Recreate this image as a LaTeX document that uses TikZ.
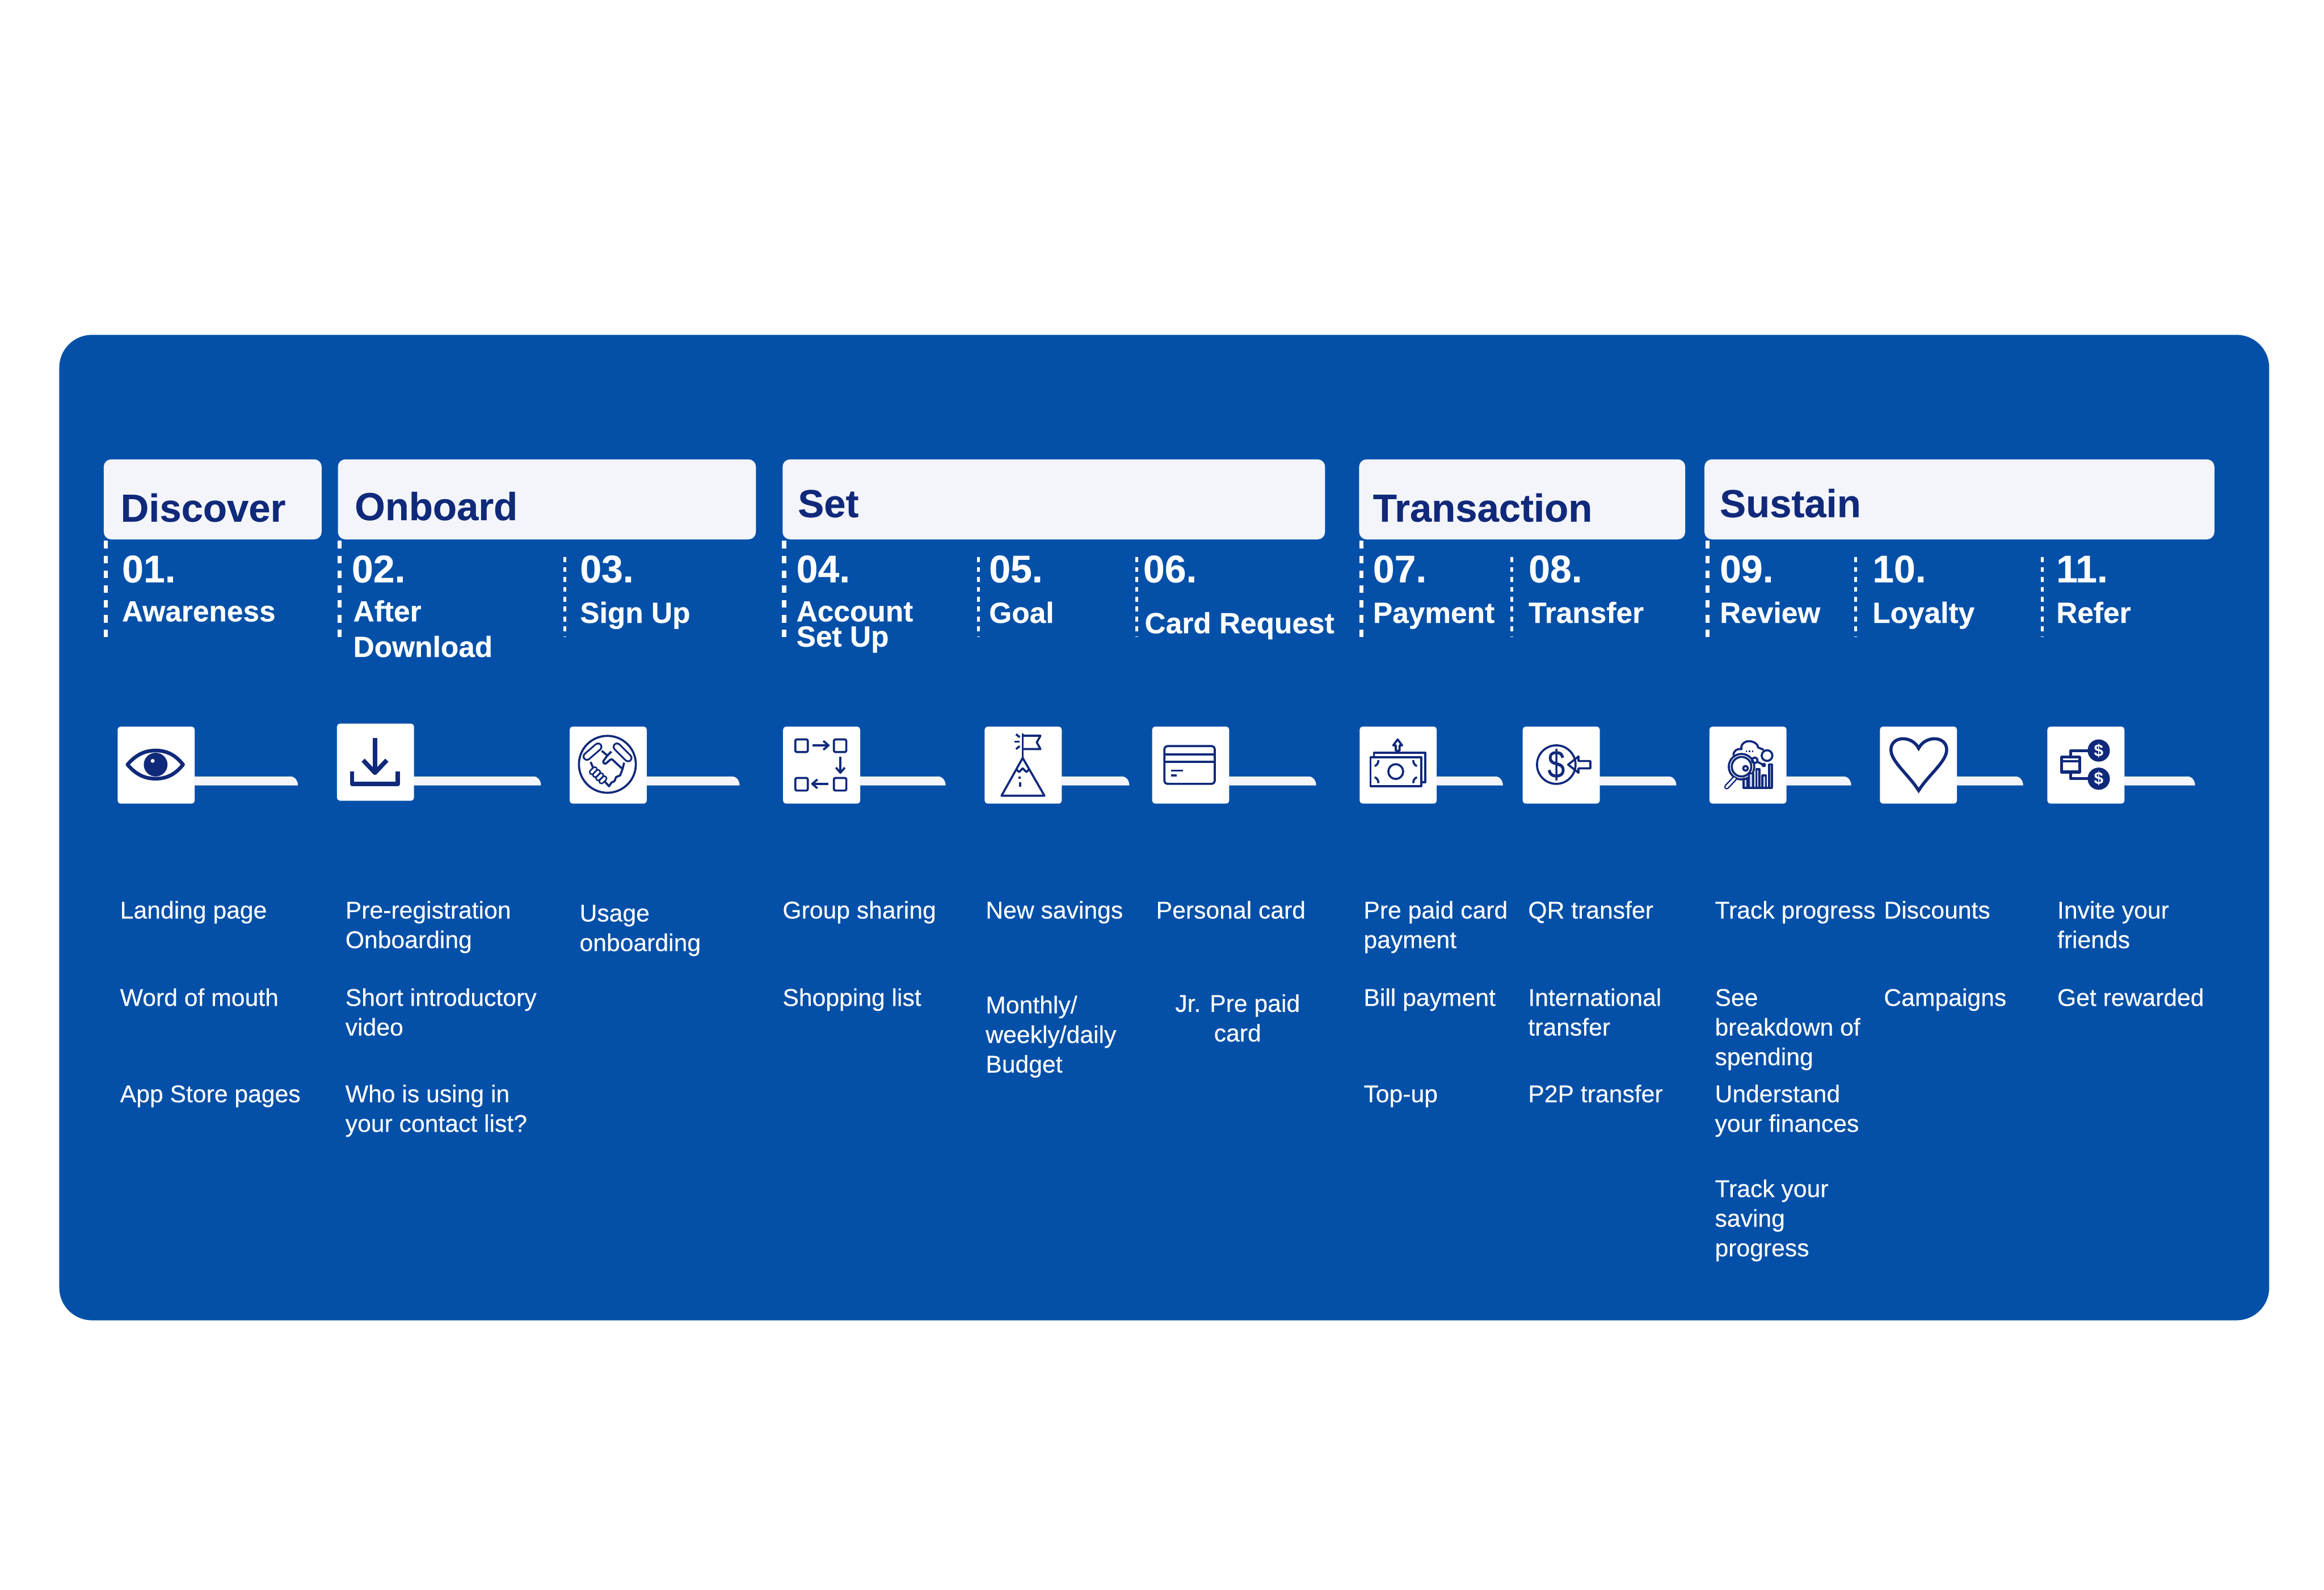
\documentclass[tikz,border=0pt]{standalone}
\usepackage{fontspec}
\setmainfont{Liberation Sans}
\newfontfamily\bodyface[FakeBold=0.2]{Liberation Sans}
\newfontfamily\boldface[FakeBold=0.3]{Liberation Sans Bold}
\definecolor{panelblue}{HTML}{0450A8}
\definecolor{navy}{HTML}{10297A}
\definecolor{paper}{HTML}{F3F5FA}
\definecolor{barlight}{HTML}{C5D0F0}
\tikzset{
  panel/.style={fill=panelblue,draw=none,rounded corners=0.44cm},
  headbox/.style={fill=paper,draw=none,rounded corners=0.1cm},
  headtext/.style={anchor=base west,inner sep=0,text=navy,font=\fontsize{15}{18}\selectfont\boldface},
  numtext/.style={anchor=base west,inner sep=0,text=white,font=\fontsize{14.8}{18}\selectfont\boldface},
  labtext/.style={anchor=north west,inner sep=0,text=white,align=left,font=\fontsize{11.2}{13.66}\selectfont\boldface},
  bodytext/.style={anchor=north west,inner sep=0,text=white,align=left,font=\fontsize{9.3}{11.38}\selectfont\bodyface},
  iconbox/.style={fill=white,draw=none,rounded corners=0.04cm,minimum width=1.04cm,minimum height=1.04cm,inner sep=0},
  stagebar/.style={fill=paper,draw=none},
  maindash/.style={draw=white,line width=1.6pt,dash pattern=on 2.9pt off 2.8pt},
  subdash/.style={draw=white,line width=1.05pt,dash pattern=on 1.9pt off 1.9pt},
  ic/.style={draw=navy,line width=0.8pt,line join=round,fill=none},
  icthick/.style={draw=navy,line width=1.4pt,line join=round,fill=none},
  capout/.style={draw=navy,line cap=round,line width=3.3pt},
  capin/.style={draw=white,line cap=round,line width=1.9pt},
  fingerout/.style={draw=navy,line cap=round,line width=2.3pt},
  fingerin/.style={draw=white,line cap=round,line width=1.0pt},
}
\newcommand{\bodyat}[4]{\node[bodytext] (#1) at (#2-0.3,#3-14.5) {\strut #4};}
\newcommand{\labat}[4]{\node[labtext] (#1) at (#2,#3-16.8) {\strut #4};}
\newcommand{\stageicon}[4]{%
  \node[iconbox,anchor=north west] (#1) at (#2,#3) {};
  \fill[stagebar] (#2+52,524) -- (#4-5,524) .. controls (#4-2,524) and (#4,527) .. (#4,530) -- (#2+52,530) -- cycle;
}
\begin{document}
\begin{tikzpicture}[x=0.02cm,y=-0.02cm]
\useasboundingbox (0,0) rectangle (1568,1072.8);
\fill[white] (0,0) rectangle (1568,1072.8);
\path[panel] (40,226) rectangle (1531,891);
% headers
\path[headbox] (70,310) rectangle (217,364);
\path[headbox] (228,310) rectangle (510,364);
\path[headbox] (528,310) rectangle (894,364);
\path[headbox] (917,310) rectangle (1137,364);
\path[headbox] (1150,310) rectangle (1494,364);
\node[headtext] (hDiscover) at (81,352) {Discover};
\node[headtext] (hOnboard) at (239,351) {Onboard};
\node[headtext] (hSet) at (538,349) {Set};
\node[headtext] (hTransaction) at (926,352) {Transaction};
\node[headtext] (hSustain) at (1160,349) {Sustain};
% dashed stage separators
\foreach \xx in {71.5,229,529,918.5,1152} \draw[maindash] (\xx,365) -- (\xx,430);
\foreach \xx in {381,660,767,1020,1252,1378} \draw[subdash] (\xx,376) -- (\xx,430);
% numbers
\node[numtext] (n1) at (82,393) {01.};
\node[numtext] (n2) at (237,393) {02.};
\node[numtext] (n3) at (391,393) {03.};
\node[numtext] (n4) at (537,393) {04.};
\node[numtext] (n5) at (667,393) {05.};
\node[numtext] (n6) at (771,393) {06.};
\node[numtext] (n7) at (926,393) {07.};
\node[numtext] (n8) at (1031,393) {08.};
\node[numtext] (n9) at (1160,393) {09.};
\node[numtext] (n10) at (1263,393) {10.};
\node[numtext] (n11) at (1387,393) {11.};
% stage names
\labat{l1}{82}{419}{Awareness}
\labat{l2}{238}{419}{After\\Download}
\labat{l3}{391}{420}{Sign Up}
\labat{l4}{537}{419}{Account}
\labat{l4b}{537}{436}{Set Up}
\labat{l5}{667}{420}{Goal}
\labat{l6}{772}{427}{Card Request}
\labat{l7}{926}{420}{Payment}
\labat{l8}{1031}{420}{Transfer}
\labat{l9}{1160}{420}{Review}
\labat{l10}{1263}{420}{Loyalty}
\labat{l11}{1387}{420}{Refer}
% icon boxes and bars
\stageicon{b1}{79}{490}{201}
\stageicon{b2}{227}{488}{365}
\stageicon{b3}{384}{490}{499}
\stageicon{b4}{528}{490}{638}
\stageicon{b5}{664}{490}{762}
\stageicon{b6}{777}{490}{888}
\stageicon{b7}{917}{490}{1014}
\stageicon{b8}{1027}{490}{1131}
\stageicon{b9}{1153}{490}{1249}
\stageicon{b10}{1268}{490}{1365}
\stageicon{b11}{1381}{490}{1481}
% eye
\begin{scope}[shift={(79,490)}]
  \draw[icthick] (7,26) .. controls (13,19) and (19,16.5) .. (26,16.5) .. controls (33,16.5) and (39,19) .. (44.5,26) .. controls (39,33) and (33,35.5) .. (26,35.5) .. controls (19,35.5) and (13,33) .. (7,26) -- cycle;
  \fill[navy] (26,26) circle [radius=8];
  \fill[white] (24,23.5) circle [radius=1.3];
\end{scope}
% download
\begin{scope}[shift={(227,488)}]
  \draw[icthick,line width=1.7pt] (26,10) -- (26,33);
  \draw[icthick,line width=1.7pt] (18,25) -- (26,33.5) -- (34,25);
  \draw[icthick,line width=1.7pt] (10.5,32.5) -- (10.5,41) -- (41.5,41) -- (41.5,32.5);
\end{scope}
% handshake
\begin{scope}[shift={(384,490)}]
  \draw[ic] (25.8,25.8) circle [radius=19.2];
  \draw[capout] (12,20.5) -- (19.5,14); \draw[capin] (12,20.5) -- (19.5,14);
  \draw[capout] (32.3,14) -- (39.8,21.5); \draw[capin] (32.3,14) -- (39.8,21.5);
  \draw[ic] (22,16.7) -- (25.8,19.9) -- (28.5,17.2);
  \draw[ic,rounded corners=0.02cm] (25.8,19.9) -- (22.6,24.2) -- (24.2,25.8) -- (28.5,22) -- (35.5,28.5);
  \draw[ic] (37.1,24.7) -- (36,29) -- (34.4,33.3) -- (31.7,34.4) -- (30.6,37.1) -- (28.5,38.2) -- (26.9,40.6) -- (24.2,37.6);
  \draw[ic] (14.5,24.2) -- (16.1,28);
  \foreach \fx/\fy in {16.3/30.1,18.5/32,20.6/34.2,22.8/36.3} {
    \draw[fingerout] (\fx-1,\fy+1) -- (\fx+1,\fy-1);
    \draw[fingerin] (\fx-1,\fy+1) -- (\fx+1,\fy-1);
  }
\end{scope}
% account set up
\begin{scope}[shift={(528,490)}]
  \draw[ic,rounded corners=0.02cm] (8.6,9) rectangle (17,17.5);
  \draw[ic,rounded corners=0.02cm] (34.6,9) rectangle (43,17.5);
  \draw[ic,rounded corners=0.02cm] (8.6,35) rectangle (17,43.5);
  \draw[ic,rounded corners=0.02cm] (34.6,35) rectangle (43,43.5);
  \draw[ic] (20,13) -- (31,13); \draw[ic] (27.5,10) -- (31,13) -- (27.5,16);
  \draw[ic] (39,20.5) -- (39,31.5); \draw[ic] (36,28) -- (39,31.5) -- (42,28);
  \draw[ic] (31,39) -- (20,39); \draw[ic] (23.5,36) -- (20,39) -- (23.5,42);
\end{scope}
% goal
\begin{scope}[shift={(664,490)}]
  \draw[ic] (26,21.5) -- (11.7,47) -- (40.7,47) -- cycle;
  \draw[ic] (26,5) -- (26,21.5);
  \draw[ic] (26,6.5) -- (38,6.5) -- (35.5,11) -- (38,15.5) -- (26,15.5);
  \draw[ic] (21.5,5.5) -- (24,7.5); \draw[ic] (20.5,10.5) -- (24,10.5); \draw[ic] (21.5,15.5) -- (24,13.5);
  \draw[ic] (21.5,29) -- (23.5,31) -- (26,28.5) -- (28.5,31) -- (30.5,29);
  \draw[ic] (24,34) -- (24,35.5); \draw[ic] (24.3,38) -- (24.3,41);
\end{scope}
% card
\begin{scope}[shift={(777,490)}]
  \draw[ic,rounded corners=0.04cm] (8.6,13.5) rectangle (42.6,39);
  \draw[ic] (8.6,19.2) -- (42.6,19.2);
  \draw[ic] (8.6,24.2) -- (42.6,24.2);
  \draw[ic] (13,30) -- (21,30);
  \draw[ic] (13,33.4) -- (17,33.4);
\end{scope}
% money
\begin{scope}[shift={(917,490)}]
  \draw[ic] (10,20.5) -- (10,18) -- (44.7,18) -- (44.7,37.8) -- (42,37.8);
  \draw[ic] (7.7,21) rectangle (42,40.5);
  \draw[ic] (24.7,30.7) ellipse [x radius=5,y radius=5];
  \draw[ic] (26,9) -- (29,13) -- (27.3,13) -- (27.3,16.6) -- (24.7,16.6) -- (24.7,13) -- (23,13) -- cycle;
  \draw[ic] (10.5,27) .. controls (12,26.5) and (13,25) .. (13,23);
  \draw[ic] (39,27) .. controls (37.5,26.5) and (36.5,25) .. (36.5,23);
  \draw[ic] (10.5,34.5) .. controls (12,35) and (13,36.5) .. (13,38.5);
  \draw[ic] (39,34.5) .. controls (37.5,35) and (36.5,36.5) .. (36.5,38.5);
\end{scope}
% dollar transfer
\begin{scope}[shift={(1027,490)}]
  \draw[ic] (23,26) circle [radius=13];
  \node[inner sep=0,text=navy,xscale=0.8,font=\fontsize{15}{15}\selectfont\bodyface] (dollar) at (23,26) {\$};
  \draw[fill=white,ic] (46,23.6) -- (38,23.6) -- (38,20.5) -- (31,26) -- (38,31.5) -- (38,28.5) -- (46,28.5) -- cycle;
\end{scope}
% review
\begin{scope}[shift={(1153,490)}]
  \draw[ic] (16.7,20) .. controls (16,17) and (19,15) .. (22,15.6) .. controls (21,12) and (25,10) .. (27,10.2) .. controls (30,10.2) and (33,12) .. (33.3,14.5) -- (37,16);
  \draw[ic] (39.2,19.9) circle [radius=3.6];
  \draw[ic] (30.9,23.1) circle [radius=1.9];
  \draw[ic] (37,26.3) circle [radius=0.8];
  \draw[ic] (32.5,24) -- (36.3,26);
  \draw[ic] (22,27.4) circle [radius=8.6];
  \draw[ic] (22,27.4) circle [radius=6.6];
  \draw[ic] (24.7,28.5) circle [radius=1.6];
  \draw[draw=navy,line cap=round,line width=2pt] (17.2,35.5) -- (12,41);
  \draw[draw=white,line cap=round,line width=0.9pt] (17.2,35.5) -- (12,41);
  \foreach \bl/\br/\bt in {23.4/25.8/35.5,27/30/32,32/34.2/29.2,36/38.5/33.3,40.6/42.5/25.8} {
    \draw[ic,fill=barlight] (\bl,41.7) rectangle (\br,\bt);
  }
  \draw[ic] (23.4,41.7) -- (42.5,41.7);
  \draw[ic] (25,17) -- (25.8,17); \draw[ic] (27,17) -- (27.8,17); \draw[ic] (29,17) -- (29.8,17);
\end{scope}
% heart
\begin{scope}[shift={(1268,490)}]
  \draw[draw=navy,line width=1.2pt,line join=miter] (26.5,43.5) .. controls (20,33) and (7.8,24) .. (7.8,16) .. controls (7.8,6.5) and (22,6) .. (26.5,15) .. controls (31,6) and (45.4,6.5) .. (45.4,16) .. controls (45.4,24) and (33,33) .. (26.5,43.5) -- cycle;
\end{scope}
% refer
\begin{scope}[shift={(1381,490)}]
  \draw[ic,line width=1.1pt] (10,21) rectangle (22,31);
  \draw[ic] (10,23.8) -- (22,23.8);
  \draw[ic,line width=1.1pt] (16,21) -- (16,16.7) -- (30,16.7);
  \draw[ic,line width=1.1pt] (16,31) -- (16,35.5) -- (30,35.5);
  \fill[navy] (35,16.5) circle [radius=7.5];
  \fill[navy] (35,35.5) circle [radius=7.5];
  \node[inner sep=0,text=white,font=\fontsize{6.5}{7}\selectfont\bfseries] (coinA) at (35,16.5) {\$};
  \node[inner sep=0,text=white,font=\fontsize{6.5}{7}\selectfont\bfseries] (coinB) at (35,35.5) {\$};
\end{scope}
% body text
\bodyat{t1}{81}{620}{Landing page}
\bodyat{t2}{81}{679}{Word of mouth}
\bodyat{t3}{81}{744}{App Store pages}
\bodyat{t4}{233}{620}{Pre-registration\\Onboarding}
\bodyat{t5}{233}{679}{Short introductory\\video}
\bodyat{t6}{233}{744}{Who is using in\\your contact list?}
\bodyat{t7}{391}{622}{Usage\\onboarding}
\bodyat{t8}{528}{620}{Group sharing}
\bodyat{t9}{528}{679}{Shopping list}
\bodyat{t10}{665}{620}{New savings}
\bodyat{t11}{665}{684}{Monthly/\\weekly/daily\\Budget}
\bodyat{t12}{780}{620}{Personal card}
\node[bodytext,anchor=north,align=center] (t13) at (835,683-14.5) {\strut Jr. Pre paid\\card};
\bodyat{t14}{920}{620}{Pre paid card\\payment}
\bodyat{t15}{920}{679}{Bill payment}
\bodyat{t16}{920}{744}{Top-up}
\bodyat{t17}{1031}{620}{QR transfer}
\bodyat{t18}{1031}{679}{International\\transfer}
\bodyat{t19}{1031}{744}{P2P transfer}
\bodyat{t20}{1157}{620}{Track progress}
\bodyat{t21}{1157}{679}{See\\breakdown of\\spending}
\bodyat{t22}{1157}{744}{Understand\\your finances}
\bodyat{t23}{1157}{808}{Track your\\saving\\progress}
\bodyat{t24}{1271}{620}{Discounts}
\bodyat{t25}{1271}{679}{Campaigns}
\bodyat{t26}{1388}{620}{Invite your\\friends}
\bodyat{t27}{1388}{679}{Get rewarded}
\end{tikzpicture}
\end{document}
